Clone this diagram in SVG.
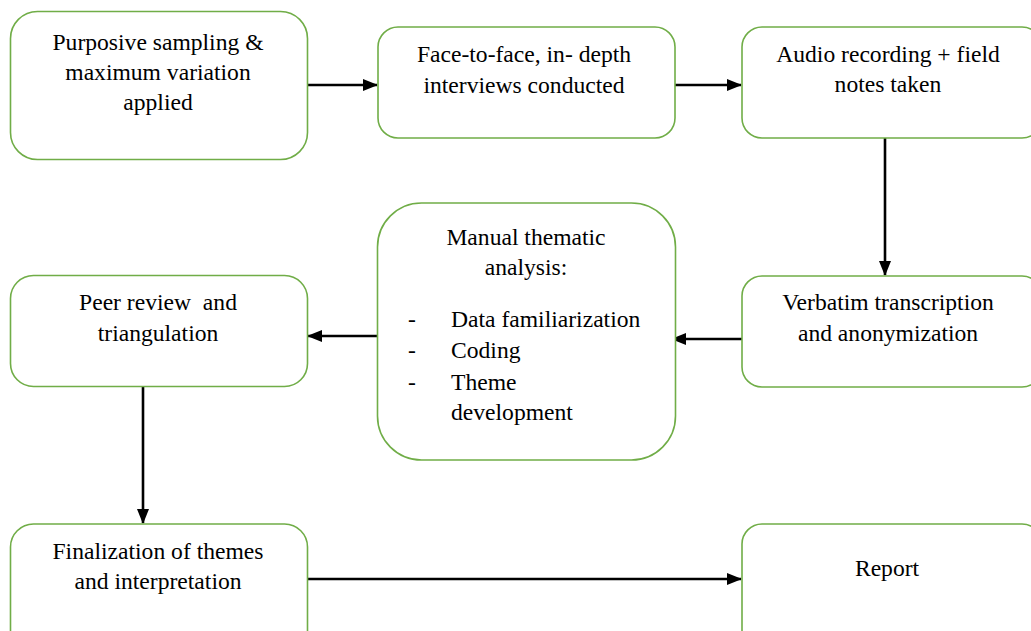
<svg xmlns="http://www.w3.org/2000/svg" width="1031" height="631" viewBox="0 0 1031 631">
<defs>
<style>
.box{fill:#fff;stroke:#70ad47;stroke-width:1.6}
.t{font-family:"Liberation Serif","Times New Roman",serif;font-size:23.6px;fill:#000;text-anchor:middle}
.l{text-anchor:start}
.c{fill:none;stroke:#000;stroke-width:2.6}
</style>
<marker id="ah" viewBox="0 0 15 12" refX="14" refY="6" markerUnits="userSpaceOnUse" markerWidth="15" markerHeight="12" orient="auto">
<path d="M0,0 L15,6 L0,12 z" fill="#000"/>
</marker>
</defs>
<rect width="1031" height="631" fill="#fff"/>
<g id="connectors">
<line class="c" x1="307" y1="85" x2="377" y2="85" marker-end="url(#ah)"/>
<line class="c" x1="675" y1="85" x2="741" y2="85" marker-end="url(#ah)"/>
<line class="c" x1="885" y1="138" x2="885" y2="275" marker-end="url(#ah)"/>
<line class="c" x1="742" y1="339" x2="672" y2="339" marker-end="url(#ah)"/>
<line class="c" x1="378" y1="336" x2="308" y2="336" marker-end="url(#ah)"/>
<line class="c" x1="143" y1="387" x2="143" y2="523" marker-end="url(#ah)"/>
<line class="c" x1="307" y1="579" x2="741" y2="579" marker-end="url(#ah)"/>
</g>
<g id="n1">
<rect class="box" x="10.5" y="11.5" width="297" height="148" rx="27"/>
<text class="t" x="158" y="50">Purposive sampling &amp;</text>
<text class="t" x="158" y="80">maximum variation</text>
<text class="t" x="158" y="110">applied</text>
</g>
<g id="n2">
<rect class="box" x="378" y="27" width="297" height="111" rx="20"/>
<text class="t" x="524" y="62">Face-to-face, in- depth</text>
<text class="t" x="524" y="93">interviews conducted</text>
</g>
<g id="n3">
<rect class="box" x="742" y="27" width="300" height="111" rx="20"/>
<text class="t" x="888" y="62">Audio recording + field</text>
<text class="t" x="888" y="92">notes taken</text>
</g>
<g id="n4">
<rect class="box" x="10.5" y="275.5" width="297" height="111" rx="23"/>
<text class="t" x="158" y="310" xml:space="preserve">Peer review  and</text>
<text class="t" x="158" y="341">triangulation</text>
</g>
<g id="n5">
<rect class="box" x="377.5" y="203" width="298" height="257" rx="44"/>
<text class="t" x="526" y="245">Manual thematic</text>
<text class="t" x="526" y="275">analysis:</text>
<text class="t" x="412" y="327">-</text>
<text class="t l" x="451" y="327">Data familiarization</text>
<text class="t" x="412" y="358">-</text>
<text class="t l" x="451" y="358">Coding</text>
<text class="t" x="412" y="390">-</text>
<text class="t l" x="451" y="390">Theme</text>
<text class="t l" x="451" y="420">development</text>
</g>
<g id="n6">
<rect class="box" x="742" y="276" width="300" height="111" rx="20"/>
<text class="t" x="888" y="310">Verbatim transcription</text>
<text class="t" x="888" y="341">and anonymization</text>
</g>
<g id="n7">
<rect class="box" x="10.5" y="524" width="297" height="130" rx="23"/>
<text class="t" x="158" y="559">Finalization of themes</text>
<text class="t" x="158" y="589">and interpretation</text>
</g>
<g id="n8">
<rect class="box" x="742" y="524" width="300" height="130" rx="20"/>
<text class="t" x="887" y="576">Report</text>
</g>
</svg>
